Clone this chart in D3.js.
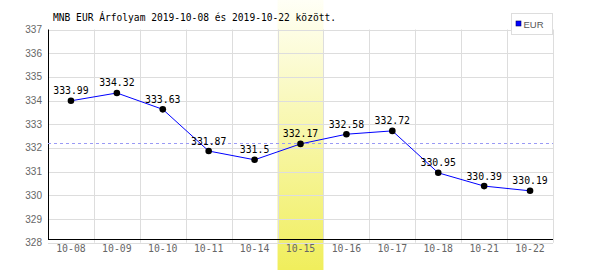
<!DOCTYPE html>
<html><head><meta charset="utf-8">
<script src="https://cdn.jsdelivr.net/npm/d3@7"></script>
<style>body{margin:0;background:#fff}svg{display:block}</style>
</head><body>
<svg id="c" width="600" height="270"></svg>
<script>
const title = "MNB EUR Árfolyam 2019-10-08 és 2019-10-22 között.";
const dates = ["10-08","10-09","10-10","10-11","10-14","10-15","10-16","10-17","10-18","10-21","10-22"];
const values = [333.99,334.32,333.63,331.87,331.5,332.17,332.58,332.72,330.95,330.39,330.19];
const labels = ["333.99","334.32","333.63","331.87","331.5","332.17","332.58","332.72","330.95","330.39","330.19"];
const yTicks = [328,329,330,331,332,333,334,335,336,337];
const highlight = "10-15";
const seriesName = "EUR";

const svg = d3.select("#c");
const L = 48, R = 553, T = 29.5, B = 242.7;
const x = d3.scaleBand().domain(dates).range([L, R]).padding(0);
const y = d3.scaleLinear().domain([328, 337]).range([B, T]);

const defs = svg.append("defs");
const g = defs.append("linearGradient").attr("id","hl").attr("x1",0).attr("y1",0).attr("x2",0).attr("y2",1);
g.append("stop").attr("offset","0%").attr("stop-color","#fffff6");
g.append("stop").attr("offset","100%").attr("stop-color","#f0ee5c");

// highlight band
svg.append("rect").attr("x", x(highlight)).attr("y", 0)
  .attr("width", x.bandwidth()).attr("height", 270).attr("fill","url(#hl)");

// horizontal gridlines
svg.append("g").selectAll("line").data(yTicks).join("line")
  .attr("x1", L).attr("x2", R)
  .attr("y1", d => Math.round(y(d)) + 0.5).attr("y2", d => Math.round(y(d)) + 0.5)
  .attr("stroke","#dddddd");
// vertical gridlines
svg.append("g").selectAll("line").data(dates.slice(1).concat(["__end"])).join("line")
  .attr("x1", d => Math.round(d === "__end" ? R : x(d)) + 0.5)
  .attr("x2", d => Math.round(d === "__end" ? R : x(d)) + 0.5)
  .attr("y1", T).attr("y2", B)
  .attr("stroke","#dddddd");

// axes lines
const axisY = Math.round(B - 4) + 0.5;
svg.append("line").attr("x1", L + 0.5).attr("x2", L + 0.5).attr("y1", T).attr("y2", axisY).attr("stroke","#000");
svg.append("line").attr("x1", L).attr("x2", R).attr("y1", axisY).attr("y2", axisY).attr("stroke","#000");

// y tick labels
svg.append("g").selectAll("text").data(yTicks).join("text")
  .attr("x", 42).attr("y", d => y(d) + 3.5)
  .attr("text-anchor","end")
  .attr("font-family","Liberation Sans, Arial, sans-serif").attr("font-size", 10)
  .attr("fill","#666").text(d => d);

// x tick labels
svg.append("g").selectAll("text").data(dates).join("text")
  .attr("x", d => x(d) + x.bandwidth()/2).attr("y", 252)
  .attr("text-anchor","middle")
  .attr("font-family","DejaVu Sans Mono, monospace").attr("font-size", 9.8)
  .attr("fill","#666").text(d => d);

// average dashed line
const avg = d3.mean(values);
svg.append("line").attr("x1", L).attr("x2", R)
  .attr("y1", Math.round(y(avg)) + 0.5).attr("y2", Math.round(y(avg)) + 0.5)
  .attr("stroke","#9a9af5").attr("stroke-dasharray","3,3");

// line
const line = d3.line().x((d,i) => x(dates[i]) + x.bandwidth()/2).y(d => y(d));
svg.append("path").datum(values).attr("d", line).attr("fill","none").attr("stroke","#0000ff").attr("stroke-width",1);

// points
svg.append("g").selectAll("circle").data(values).join("circle")
  .attr("cx", (d,i) => x(dates[i]) + x.bandwidth()/2).attr("cy", d => y(d))
  .attr("r", 3.3).attr("fill","#000");

// value labels
svg.append("g").selectAll("text").data(values).join("text")
  .attr("x", (d,i) => x(dates[i]) + x.bandwidth()/2).attr("y", d => y(d) - 6.5)
  .attr("text-anchor","middle")
  .attr("font-family","DejaVu Sans Mono, monospace").attr("font-size", 9.8)
  .attr("fill","#000").text((d,i) => labels[i]);

// title
svg.append("text").attr("x", 53).attr("y", 21)
  .attr("font-family","DejaVu Sans Mono, monospace").attr("font-size", 9.6)
  .attr("fill","#000").text(title);

// legend
svg.append("rect").attr("x", 511.5).attr("y", 13.5).attr("width", 41).attr("height", 21)
  .attr("fill","#fff").attr("stroke","#dddddd");
svg.append("rect").attr("x", 516).attr("y", 21).attr("width", 5).attr("height", 5)
  .attr("fill","#0000ff").attr("stroke","#000066").attr("stroke-width",0.6);
svg.append("text").attr("x", 523.5).attr("y", 27.5)
  .attr("font-family","Liberation Sans, Arial, sans-serif").attr("font-size", 9.5)
  .attr("fill","#555").text(seriesName);
</script>
</body></html>
